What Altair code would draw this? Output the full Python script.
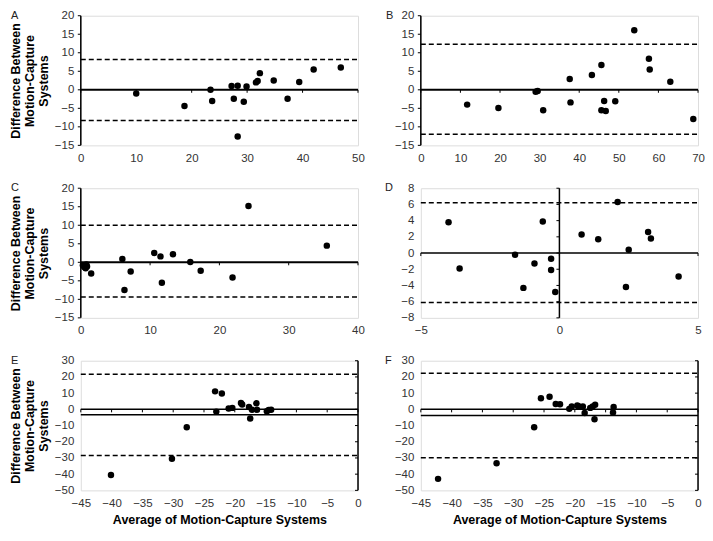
import altair as alt
import pandas as pd

FONT = "Liberation Sans"
LABEL_COLOR = "#333333"

# ---------------- data ----------------
a_x = [10.0, 18.7, 23.4, 23.7, 27.2, 27.6, 28.3, 28.3, 29.4, 29.9, 31.6, 31.9, 32.3, 34.8, 37.3, 39.4, 42.0, 46.9]
a_y = [-1.0, -4.4, 0.0, -3.0, 1.0, -2.4, 1.1, -12.6, -3.2, 0.9, 2.0, 2.4, 4.5, 2.5, -2.4, 2.1, 5.5, 6.0]
a_limits = [8.2, -8.3]

b_x = [11.7, 19.6, 29.0, 29.5, 30.9, 37.6, 37.8, 43.2, 45.6, 45.6, 46.3, 46.7, 49.1, 53.9, 57.6, 57.8, 63.0, 68.8]
b_y = [-4.0, -4.9, -0.5, -0.3, -5.5, 2.9, -3.4, 4.0, 6.7, -5.5, -3.0, -5.7, -3.1, 16.1, 8.4, 5.5, 2.2, -7.9]
b_limits = [12.3, -12.0]

c_x = [0.3, 0.5, 0.7, 0.8, 0.9, 1.5, 6.0, 6.3, 7.2, 10.6, 11.5, 11.7, 13.3, 15.8, 17.3, 21.9, 24.2, 35.5]
c_y = [-0.8, -1.3, -1.6, -0.6, -1.1, -3.0, 0.9, -7.5, -2.5, 2.5, 1.6, -5.5, 2.2, 0.1, -2.3, -4.1, 15.2, 4.5]
c_limits = [10.0, -9.4]

d_x = [-4.0, -3.6, -1.6, -1.3, -0.9, -0.6, -0.3, -0.3, -0.15, 0.8, 1.4, 2.1, 2.4, 2.5, 3.2, 3.3, 4.3]
d_y = [3.8, -1.9, -0.2, -4.3, -1.3, 3.9, -0.7, -2.1, -4.8, 2.3, 1.7, 6.3, -4.2, 0.4, 2.6, 1.8, -2.9]
d_limits = [6.2, -6.1]

e_x = [-40.1, -30.2, -27.8, -23.2, -23.0, -22.1, -21.0, -20.4, -19.0, -18.8, -17.7, -17.5, -17.2, -16.5, -16.4, -14.8, -14.5, -14.1]
e_y = [-40.5, -30.5, -11.1, 11.1, -1.4, 9.8, 0.5, 0.9, 3.9, 3.0, 1.5, -5.6, -0.2, 3.7, -0.3, -1.2, -0.4, -0.3]
e_limits = [21.7, -28.5]
e_mean = -3.4

f_x = [-42.2, -32.7, -26.6, -25.5, -24.1, -23.1, -22.4, -20.9, -20.5, -19.6, -19.4, -18.7, -18.4, -17.5, -17.1, -16.7, -16.8, -13.7, -13.8]
f_y = [-42.9, -33.3, -11.0, 6.8, 7.8, 3.3, 3.2, 0.3, 1.7, 2.4, 1.9, 1.8, -2.2, 0.9, 1.8, 2.8, -6.1, 1.5, -2.0]
f_limits = [22.2, -29.8]
f_mean = -3.8

ticks_0_50 = [0, 10, 20, 30, 40, 50]
ticks_0_70 = [0, 10, 20, 30, 40, 50, 60, 70]
ticks_0_40 = [0, 10, 20, 30, 40]
ticks_m5_5 = [-5, 0, 5]
ticks_m45_0 = [-45, -40, -35, -30, -25, -20, -15, -10, -5, 0]
yticks_m15_20 = [-15, -10, -5, 0, 5, 10, 15, 20]
yticks_m8_8 = [-8, -6, -4, -2, 0, 2, 4, 6, 8]
yticks_m50_30 = [-50, -40, -30, -20, -10, 0, 10, 20, 30]

Y_TITLE = ["Difference Between", "Motion-Capture", "Systems"]
X_TITLE = "Average of Motion-Capture Systems"

W = 278
H = 130


def panel(letter, xs, ys, xticks, yticks, limits, mean, yaxis_x, ytitle, xtitle, letter_dx, zero_w):
    xdom = [xticks[0], xticks[-1]]
    ydom = [yticks[0], yticks[-1]]
    xsc = alt.Scale(domain=xdom, nice=False, zero=False)
    ysc = alt.Scale(domain=ydom, nice=False, zero=False)

    xaxis = alt.Axis(values=xticks, domain=False, ticks=False, grid=False,
                     labelPadding=7, labelFontSize=11.5, labelColor=LABEL_COLOR,
                     labelFont=FONT, labelFlush=False, labelOverlap=False,
                     title=xtitle if xtitle else "", titleFont=FONT,
                     titleFontSize=12.5, titleFontWeight="bold", titleColor="black",
                     titlePadding=5)
    yaxis = alt.Axis(values=yticks, domain=False, ticks=False, grid=False,
                     labelPadding=7, labelFontSize=11.5, labelColor=LABEL_COLOR,
                     labelFont=FONT, labelFlush=False, labelOverlap=False,
                     title=ytitle if ytitle else "", titleFont=FONT,
                     titleFontSize=12.5, titleFontWeight="bold", titleColor="black",
                     titleLineHeight=14, titlePadding=4)

    def X(field):
        return alt.X(field, scale=xsc, axis=xaxis)

    def Y(field):
        return alt.Y(field, scale=ysc, axis=yaxis)

    pts_df = pd.DataFrame({"x": xs, "y": ys})
    points = alt.Chart(pts_df).mark_circle(size=42, color="black", opacity=1).encode(
        x=X("x:Q"), y=Y("y:Q"),
    )

    # horizontal solid lines: x-axis line at 0 and mean line
    solid_rows = [{"y": 0.0, "x1": xdom[0], "x2": xdom[1], "w": zero_w}]
    if mean is not None:
        solid_rows.append({"y": mean, "x1": xdom[0], "x2": xdom[1], "w": 1.5})
    solid = alt.Chart(pd.DataFrame(solid_rows)).mark_rule(color="black").encode(
        x=X("x1:Q"), x2="x2:Q", y=Y("y:Q"),
        strokeWidth=alt.StrokeWidth("w:Q", scale=None, legend=None),
    )

    dashed = alt.Chart(pd.DataFrame({"y": limits, "x1": [xdom[0]] * 2, "x2": [xdom[1]] * 2})).mark_rule(
        color="black", strokeDash=[5, 3], strokeWidth=1.5).encode(
        x=X("x1:Q"), x2="x2:Q", y=Y("y:Q"),
    )

    # vertical axis line
    vline = alt.Chart(pd.DataFrame({"x": [yaxis_x], "y1": [ydom[0]], "y2": [ydom[1]]})).mark_rule(
        color="black", strokeWidth=1.5).encode(
        x=X("x:Q"), y=Y("y1:Q"), y2="y2:Q",
    )

    # tick marks on the zero line (downwards)
    xt = alt.Chart(pd.DataFrame({"x": xticks, "z": [0.0] * len(xticks)})).mark_rule(
        color="black", strokeWidth=1, y2Offset=3).encode(
        x=X("x:Q"), y=Y("z:Q"), y2="z:Q",
    )
    # tick marks on the vertical axis (leftwards)
    yt = alt.Chart(pd.DataFrame({"y": yticks, "z": [float(yaxis_x)] * len(yticks)})).mark_rule(
        color="black", strokeWidth=1, x2Offset=-3).encode(
        x=X("z:Q"), x2="z:Q", y=Y("y:Q"),
    )

    return alt.layer(points, dashed, solid, vline, xt, yt).properties(
        width=W, height=H,
        title=alt.TitleParams(text=letter, anchor="start", frame="group", orient="top",
                              dx=letter_dx, dy=11, offset=0, fontSize=11, fontWeight="normal",
                              font=FONT, color="#222222"),
    )


pA = panel("A", a_x, a_y, ticks_0_50, yticks_m15_20, a_limits, None, 0, Y_TITLE, None, -70, 2)
pB = panel("B", b_x, b_y, ticks_0_70, yticks_m15_20, b_limits, None, 0, None, None, -35, 2)
pC = panel("C", c_x, c_y, ticks_0_40, yticks_m15_20, c_limits, None, 0, Y_TITLE, None, -70, 2)
pD = panel("D", d_x, d_y, ticks_m5_5, yticks_m8_8, d_limits, None, 0, None, None, -36, 1.5)
pE = panel("E", e_x, e_y, ticks_m45_0, yticks_m50_30, e_limits, e_mean, 0, Y_TITLE, X_TITLE, -70, 1.5)
pF = panel("F", f_x, f_y, ticks_m45_0, yticks_m50_30, f_limits, f_mean, 0, None, X_TITLE, -36, 1.5)

chart = alt.concat(pA, pB, pC, pD, pE, pF, columns=2,
                   spacing={"row": 43, "column": 63}, bounds="flush").properties(
    padding=0
).configure_view(stroke=None).configure(font=FONT)

chart.save("out.html", embed_options={"renderer": "svg", "actions": False})
